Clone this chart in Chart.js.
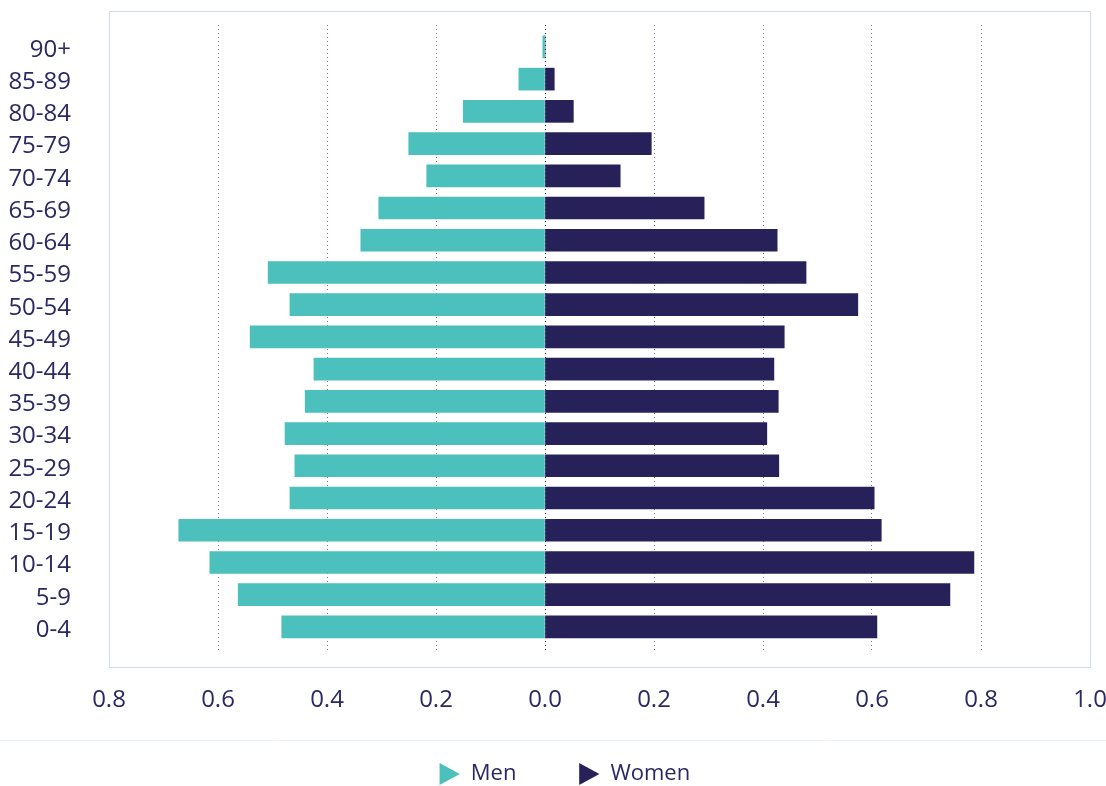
<!DOCTYPE html>
<html>
<head>
<meta charset="utf-8">
<script src="https://cdn.jsdelivr.net/npm/chart.js@4/dist/chart.umd.min.js"></script>
<style>
  html, body { margin: 0; padding: 0; background: #ffffff; }
  #wrap { width: 1106px; height: 786px; position: relative; }
</style>
</head>
<body>
<div id="wrap"><canvas id="c" width="1106" height="786"></canvas></div>
<script>
const ageGroups = ['90+', '85-89', '80-84', '75-79', '70-74', '65-69', '60-64', '55-59', '50-54', '45-49',
                   '40-44', '35-39', '30-34', '25-29', '20-24', '15-19', '10-14', '5-9', '0-4'];
const menValues = [-0.004, -0.048, -0.150, -0.250, -0.217, -0.305, -0.338, -0.508, -0.468, -0.541,
                   -0.424, -0.440, -0.477, -0.459, -0.468, -0.672, -0.615, -0.563, -0.483];
const womenValues = [0.0, 0.017, 0.052, 0.195, 0.138, 0.292, 0.426, 0.479, 0.574, 0.439,
                     0.420, 0.428, 0.407, 0.429, 0.604, 0.617, 0.787, 0.743, 0.609];
const xTicks = [-0.8, -0.6, -0.4, -0.2, 0.0, 0.2, 0.4, 0.6, 0.8, 1.0];
const seriesNames = ['Men', 'Women'];
const seriesColors = ['#4bc0bc', '#262259'];

const textColor = '#2b2862';
const FONT = "'Open Sans', 'Noto Sans', sans-serif";

const decorPlugin = {
  id: 'decor',
  beforeDatasetsDraw(chart) {
    const {ctx, chartArea} = chart;
    ctx.save();
    ctx.strokeStyle = '#d2dce7';
    ctx.lineWidth = 1;
    ctx.strokeRect(Math.round(chartArea.left) + 0.5, Math.round(chartArea.top - 14) + 0.5,
                   Math.round(chartArea.right - chartArea.left), Math.round(chartArea.bottom - chartArea.top + 28));
    ctx.restore();
  },
  beforeDraw(chart) {
    const {ctx} = chart;
    ctx.save();
    ctx.strokeStyle = '#e9f2f8';
    ctx.lineWidth = 1;
    ctx.beginPath();
    ctx.moveTo(0, 740.5);
    ctx.lineTo(chart.width, 740.5);
    ctx.stroke();
    ctx.restore();
  }
};

const toPoints = arr => arr.map((v, i) => ({x: v, y: i}));

new Chart(document.getElementById('c'), {
  type: 'bar',
  data: {
    datasets: [
      { label: seriesNames[0], data: toPoints(menValues), backgroundColor: seriesColors[0],
        grouped: false, barThickness: 22 },
      { label: seriesNames[1], data: toPoints(womenValues), backgroundColor: seriesColors[1],
        grouped: false, barThickness: 22 }
    ]
  },
  options: {
    indexAxis: 'y',
    responsive: false,
    animation: false,
    layout: { padding: { left: 8, right: -9, top: 25, bottom: 0 } },
    scales: {
      x: {
        type: 'linear',
        min: xTicks[0],
        max: xTicks[xTicks.length - 1],
        afterBuildTicks: s => { s.ticks = xTicks.map(v => ({value: v})); },
        afterFit: s => { s.height = 54; s.paddingLeft = 0; s.paddingRight = 16; s.paddingTop = 0; s.paddingBottom = 0; },
        grid: {
          drawTicks: false,
          color: c => {
            const v = c.tick ? c.tick.value : 0;
            if (Math.abs(v - xTicks[0]) < 1e-9 || Math.abs(v - xTicks[xTicks.length - 1]) < 1e-9) return 'rgba(0,0,0,0)';
            return Math.abs(v) < 1e-9 ? '#262259' : '#7a75aa';
          },
          lineWidth: 1
        },
        border: { display: false, dash: [1, 3] },
        ticks: {
          mirror: true,
          padding: -62,
          color: textColor,
          font: { family: FONT, size: 24 },
          callback: v => Math.abs(v).toFixed(1)
        }
      },
      y: {
        type: 'linear',
        offset: false,
        reverse: true,
        min: -0.68,
        max: 18.81,
        afterBuildTicks: s => { s.ticks = ageGroups.map((_, i) => ({value: i})); },
        afterFit: s => { s.width = 101; s.paddingLeft = 0; s.paddingRight = 0; s.paddingTop = 0; s.paddingBottom = 0; },
        grid: { display: false, drawTicks: false, offset: false },
        border: { display: false },
        ticks: {
          autoSkip: false,
          padding: 38,
          labelOffset: 3,
          color: textColor,
          font: { family: FONT, size: 24 },
          callback: v => ageGroups[v]
        }
      }
    },
    plugins: {
      tooltip: { enabled: false },
      legend: {
        position: 'bottom',
        maxHeight: 79,
        labels: {
          usePointStyle: true,
          pointStyleWidth: 27,
          boxHeight: 18,
          padding: 56,
          color: textColor,
          font: { family: FONT, size: 22 },
          generateLabels: chart => chart.data.datasets.map((ds, i) => ({
            text: ds.label,
            fillStyle: ds.backgroundColor,
            strokeStyle: ds.backgroundColor,
            lineWidth: 0,
            pointStyle: 'triangle',
            rotation: 90,
            fontColor: textColor,
            hidden: !chart.isDatasetVisible(i),
            datasetIndex: i
          }))
        }
      }
    }
  },
  plugins: [decorPlugin]
});
</script>
</body>
</html>
